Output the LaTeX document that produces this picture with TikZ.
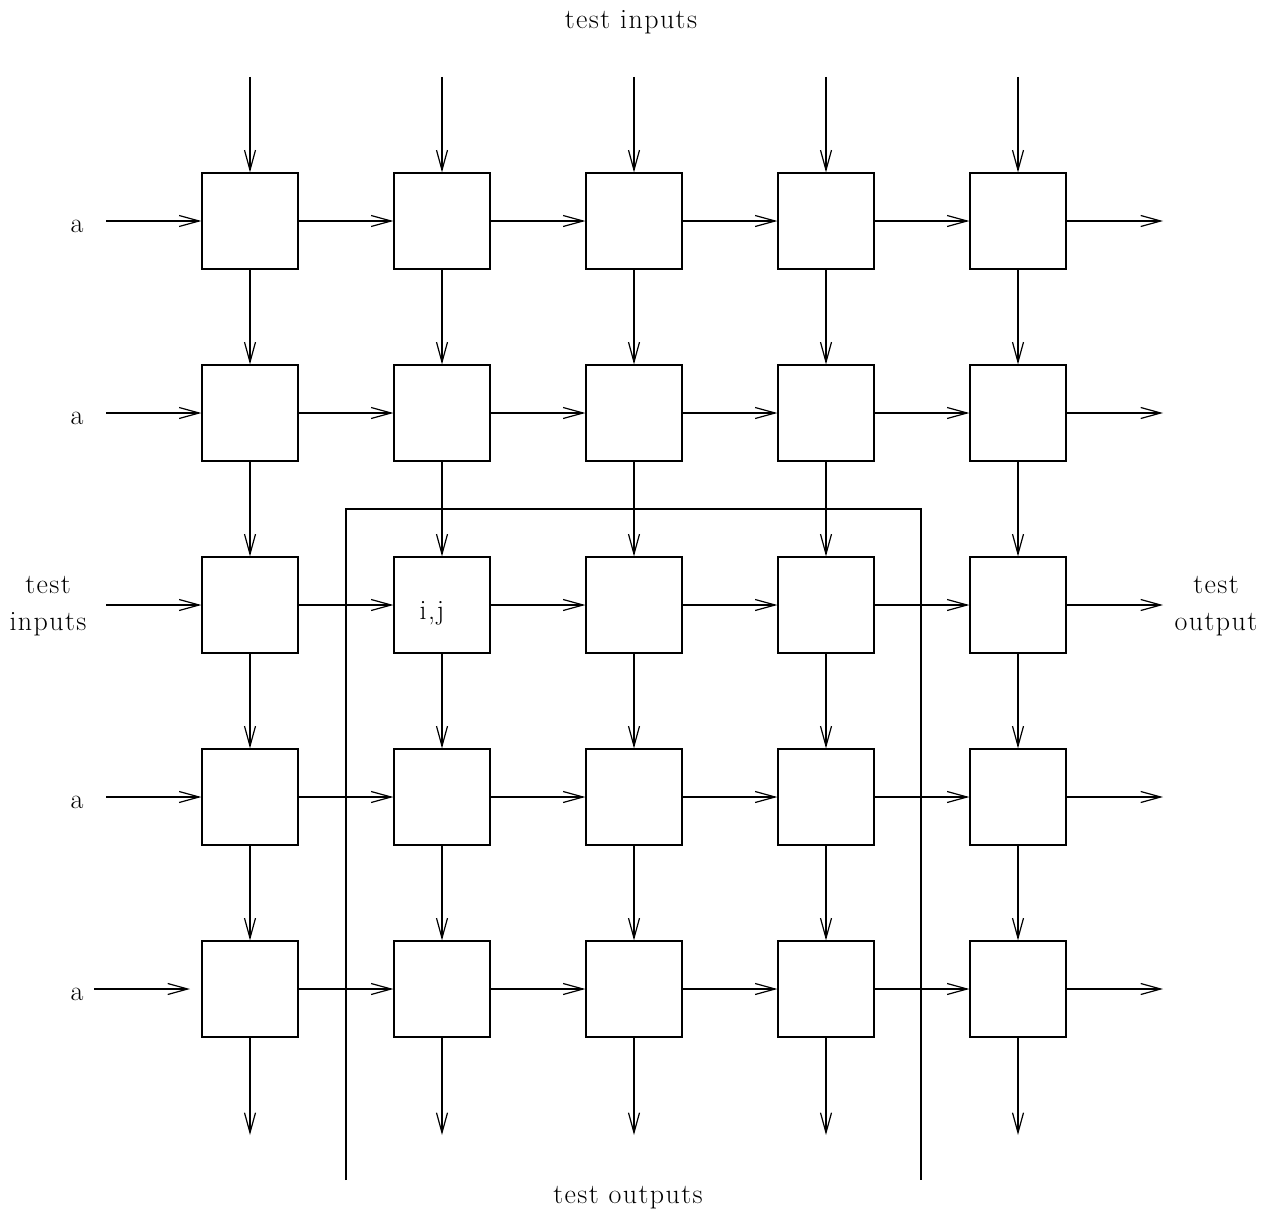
\documentclass[tikz,border=0pt]{standalone}
\usepackage{fontspec}
\setmainfont{Latin Modern Roman}[LetterSpace=5]
\usetikzlibrary{arrows.meta}
\begin{document}
\begin{tikzpicture}[x=1pt,y=-1pt,
  cell/.style={draw,line width=1.2pt,minimum size=96pt,inner sep=0pt},
  conn/.style={line width=1.2pt,-{Straight Barb[length=20pt,width=11pt,line width=1.2pt]}},
  frame/.style={line width=1.2pt},
  lbl/.style={font=\fontsize{28}{37}\selectfont,inner sep=0pt,align=center}]
\useasboundingbox (0,0) rectangle (1270,1215);
% cells
\foreach \c/\x in {1/250,2/442,3/634,4/826,5/1018}{
  \foreach \r/\y in {1/221,2/413,3/605,4/797,5/989}{
    \node[cell] (b\r\c) at (\x,\y) {};
  }
}
\node[lbl,anchor=base] at (432,619) {i,j};
% top inputs and bottom outputs
\foreach \c/\x in {1/250,2/442,3/634,4/826,5/1018}{
  \coordinate (t\c) at (\x,77);
  \coordinate (o\c) at (\x,1135);
  \draw[conn] (t\c) -- (b1\c.north);
  \draw[conn] (b5\c.south) -- (o\c);
}
% vertical connectors
\foreach \c in {1,...,5}{
  \foreach \r/\s in {1/2,2/3,3/4,4/5}{
    \draw[conn] (b\r\c.south) -- (b\s\c.north);
  }
}
% horizontal connectors
\foreach \r in {1,...,5}{
  \foreach \c/\d in {1/2,2/3,3/4,4/5}{
    \draw[conn] (b\r\c.east) -- (b\r\d.west);
  }
}
% left inputs and right outputs
\foreach \r/\y in {1/221,2/413,3/605,4/797}{
  \coordinate (l\r) at (106,\y);
  \draw[conn] (l\r) -- (b\r1.west);
}
\coordinate (l5) at (94,989);
\coordinate (l5e) at (190,989);
\draw[conn] (l5) -- (l5e);
\foreach \r/\y in {1/221,2/413,3/605,4/797,5/989}{
  \coordinate (r\r) at (1163,\y);
  \draw[conn] (b\r5.east) -- (r\r);
}
% frame
\coordinate (f1) at (346,1180);
\coordinate (f2) at (346,509);
\coordinate (f3) at (921,509);
\coordinate (f4) at (921,1180);
\draw[frame] (f1) -- (f2) -- (f3) -- (f4);
% labels
\node[lbl] (ti) at (631,22) {test inputs};
\node[lbl] (to) at (628,1198) {test outputs};
\foreach \y in {221,413,797,989}{
  \node[lbl] at (77,\y+5) {a};
}
\node[lbl] (lti) at (48,606) {test\\inputs};
\node[lbl] (rto) at (1216,606) {test\\output};
\end{tikzpicture}
\end{document}
